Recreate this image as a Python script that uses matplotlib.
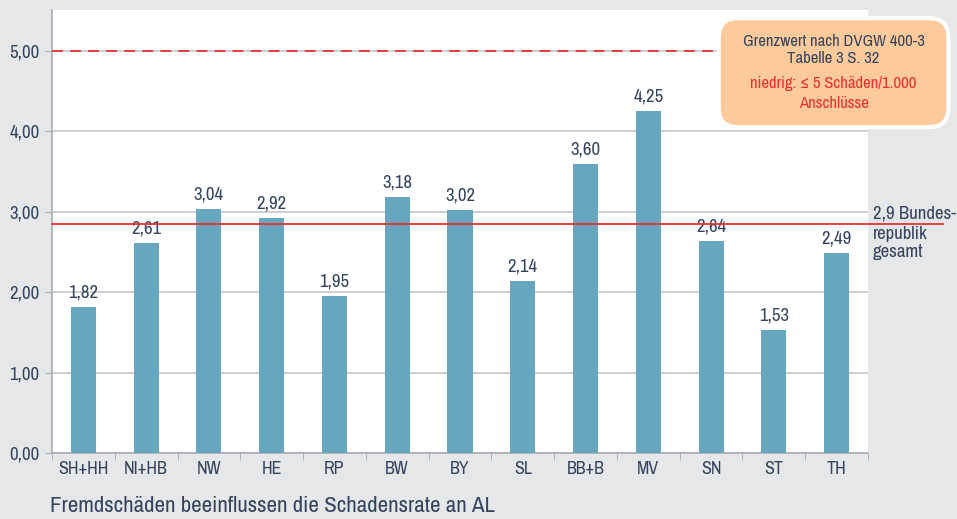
import matplotlib.pyplot as plt
from matplotlib.patches import FancyBboxPatch
import numpy as np

regions = ['SH+HH', 'NI+HB', 'NW', 'HE', 'RP', 'BW', 'BY', 'SL', 'BB+B', 'MV', 'SN', 'ST', 'TH']
rates = [1.82, 2.61, 3.04, 2.92, 1.95, 3.18, 3.02, 2.14, 3.60, 4.25, 2.64, 1.53, 2.49]
limit_value = 5.0
national_value = 2.85
yticks = [0, 1, 2, 3, 4, 5]

plt.rcParams['font.family'] = ['Archivo Narrow', 'DejaVu Sans']
txt = '#34445e'
bar_col = '#67a6be'
red = '#e8312f'

fig = plt.figure(figsize=(9.57, 5.19), dpi=100)
fig.patch.set_facecolor('#e6e7e9')
ax = fig.add_axes([0.0543, 0.1272, 0.8527, 0.8535])
ax.set_facecolor('white')

x = np.arange(len(regions))
ax.bar(x, rates, width=0.4, color=bar_col, zorder=3)
for xi, v in zip(x, rates):
    ax.text(xi, v + 0.08, f'{v:.2f}'.replace('.', ','), ha='center', va='bottom',
            fontsize=13.5, color=txt, zorder=4)

ax.set_xlim(-0.5, len(regions) - 0.5)
ax.set_ylim(0, 5.51)
ax.set_yticks(yticks)
ax.set_yticklabels([f'{t:.2f}'.replace('.', ',') for t in yticks], fontsize=13.5, color=txt)
ax.set_xticks(x)
ax.set_xticklabels(regions, fontsize=13, color=txt)
ax.set_xticks(np.arange(-0.5, len(regions) + 0.5, 1), minor=True)
ax.tick_params(axis='x', which='major', length=0, pad=6)
ax.tick_params(axis='x', which='minor', length=5, color='#a8adb3')
ax.tick_params(axis='y', length=5, color='#a8adb3', pad=4)
ax.grid(axis='y', color='#c3c6ca', linewidth=1.2, zorder=0)
for s in ['top', 'right']:
    ax.spines[s].set_visible(False)
for s in ['left', 'bottom']:
    ax.spines[s].set_color('#a8adb3')
    ax.spines[s].set_linewidth(1.2)

# Grenzwert (dashed) and national average (solid)
ax.plot([-0.5, 10.2], [limit_value, limit_value], color=red, lw=1.3,
        ls=(0, (6, 4)), zorder=5, clip_on=False)
ax.plot([-0.5, 13.7], [national_value, national_value], color=red, lw=1.3,
        zorder=5, clip_on=False)
ax.text(12.58, national_value + 0.03, '2,9 Bundes-', fontsize=13.5,
        color=txt, va='bottom', ha='left', clip_on=False, zorder=6)
ax.text(12.58, national_value - 0.03, 'republik\ngesamt', fontsize=13.5,
        color=txt, va='top', ha='left', linespacing=1.1, clip_on=False, zorder=6)

# annotation box
box = FancyBboxPatch((0.751, 0.755), 0.240, 0.210, boxstyle='round,pad=0,rounding_size=0.02',
                     transform=fig.transFigure, facecolor='#fdca9b', edgecolor='white',
                     linewidth=3, zorder=10, mutation_aspect=957 / 519)
fig.patches.append(box)
fig.text(0.871, 0.935, 'Grenzwert nach DVGW 400-3\nTabelle 3 S. 32', ha='center', va='top',
         fontsize=12, color=txt, linespacing=1.2, zorder=11)
fig.text(0.871, 0.853, 'niedrig: \u2264 5 Schäden/1.000\nAnschlüsse', ha='center', va='top',
         fontsize=12, color=red, linespacing=1.4, zorder=11)

fig.text(0.052, 0.025, 'Fremdschäden beeinflussen die Schadensrate an AL', fontsize=16.5,
         color=txt, ha='left', va='center')

fig.savefig('out.png', dpi=100, facecolor=fig.get_facecolor())
